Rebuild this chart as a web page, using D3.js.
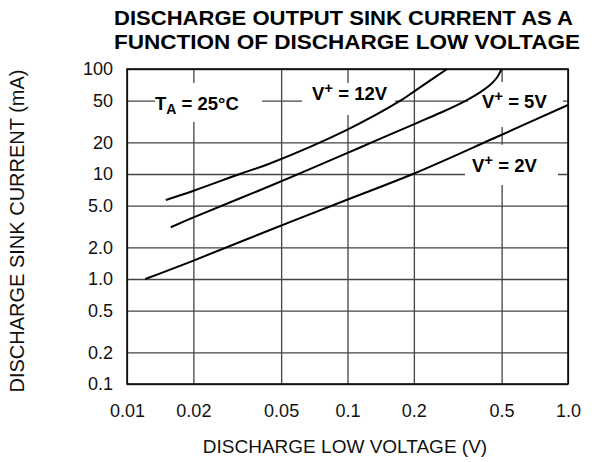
<!DOCTYPE html>
<html>
<head>
<meta charset="utf-8">
<script src="https://cdn.jsdelivr.net/npm/d3@7"></script>
<style>
  body { margin: 0; background: #fff; }
  text { font-family: "Liberation Sans", Arial, sans-serif; }
</style>
</head>
<body>
<div id="chart"></div>
<script>
// tick values and labels
const xTicks = [0.01, 0.02, 0.05, 0.1, 0.2, 0.5, 1.0];
const xTickLabels = ["0.01", "0.02", "0.05", "0.1", "0.2", "0.5", "1.0"];
const yTicks = [0.1, 0.2, 0.5, 1, 2, 5, 10, 20, 50, 100];
const yTickLabels = ["0.1", "0.2", "0.5", "1.0", "2.0", "5.0", "10", "20", "50", "100"];

// curves (V, mA)
const v12 = [0.0150, 0.0199, 0.0325, 0.0445, 0.0989, 0.173, 0.2046, 0.283];
const i12 = [5.66, 6.89, 10, 12.6, 26.2, 49.6, 63, 100];
const v5 = [0.0158, 0.0199, 0.0445, 0.0989, 0.1288, 0.2046, 0.2655, 0.3446, 0.399, 0.4429, 0.4764, 0.500];
const i5 = [3.11, 3.84, 7.69, 15.7, 20, 30.4, 38.5, 50.1, 60.0, 70.4, 83.0, 100];
const v2 = [0.0121, 0.0199, 0.0445, 0.0989, 0.198, 0.461, 1.0];
const i2 = [1.0, 1.49, 2.93, 5.66, 10, 21.9, 45.4];

const W = 592, H = 462;
const margin = {top: 69, right: 24, bottom: 78, left: 127};
const w = W - margin.left - margin.right;
const h = H - margin.top - margin.bottom;

const svg = d3.select("#chart").append("svg")
    .attr("width", W)
    .attr("height", H);

svg.append("text").attr("x", 114).attr("y", 25)
    .attr("font-size", 21).attr("font-weight", "bold")
    .attr("textLength", 459).attr("lengthAdjust", "spacingAndGlyphs")
    .text("DISCHARGE OUTPUT SINK CURRENT AS A");
svg.append("text").attr("x", 114).attr("y", 49)
    .attr("font-size", 21).attr("font-weight", "bold")
    .attr("textLength", 466).attr("lengthAdjust", "spacingAndGlyphs")
    .text("FUNCTION OF DISCHARGE LOW VOLTAGE");

const x = d3.scaleLog().domain([0.01, 1.0]).range([0, w]);
const y = d3.scaleLog().domain([0.1, 100]).range([h, 0]);

const g = svg.append("g")
    .attr("transform", `translate(${margin.left},${margin.top})`);

// grid + tick labels
const xAxis = g.append("g")
    .attr("transform", `translate(0,${h})`)
    .call(d3.axisBottom(x).tickValues(xTicks)
        .tickFormat((d, i) => xTickLabels[i])
        .tickSize(-h).tickPadding(20));
const yAxis = g.append("g")
    .call(d3.axisLeft(y).tickValues(yTicks)
        .tickFormat((d, i) => yTickLabels[i])
        .tickSize(-w).tickPadding(14));

[xAxis, yAxis].forEach(a => {
    a.select(".domain").remove();
    a.selectAll(".tick line").attr("stroke", "#444").attr("stroke-width", 1.3);
    a.selectAll(".tick text").attr("font-size", 18).attr("fill", "#111")
        .attr("font-family", "Liberation Sans, Arial, sans-serif");
});

// label boxes (white, they break the grid) and texts
const labels = [
    {x0: 0.0134, x1: 0.0410, y0: 73.6, y1: 31.3, tx: 0.0134, ty: 40.7, main: "T", sub: "A", rest: " = 25°C"},
    {x0: 0.0622, x1: 0.164, y0: 73.6, y1: 36.5, tx: 0.0690, ty: 50.7, main: "V", sup: "+", rest: " = 12V"},
    {x0: 0.352, x1: 0.949, y0: 75.2, y1: 28.0, tx: 0.407, ty: 42.5, main: "V", sup: "+", rest: " = 5V"},
    {x0: 0.341, x1: 0.901, y0: 19.0, y1: 7.86, tx: 0.367, ty: 10.45, main: "V", sup: "+", rest: " = 2V"}
];

g.selectAll(".lblbox").data(labels).enter().append("rect")
    .attr("x", d => x(d.x0))
    .attr("y", d => y(d.y0))
    .attr("width", d => x(d.x1) - x(d.x0))
    .attr("height", d => y(d.y1) - y(d.y0))
    .attr("fill", "#fff");

labels.forEach(d => {
    const t = g.append("text")
        .attr("x", x(d.tx)).attr("y", y(d.ty))
        .attr("font-size", 18.5).attr("font-weight", "bold");
    t.append("tspan").text(d.main);
    if (d.sub) {
        t.append("tspan").attr("font-size", 14).attr("dy", 4).text(d.sub);
        t.append("tspan").attr("dy", -4).text(d.rest);
    } else {
        t.append("tspan").attr("font-size", 15).attr("dy", -7).text(d.sup);
        t.append("tspan").attr("dy", 7).text(d.rest);
    }
});

// border
g.append("rect").attr("width", w).attr("height", h)
    .attr("fill", "none").attr("stroke", "#000").attr("stroke-width", 1.5);

// curves
const line = d3.line()
    .x(d => x(d[0]))
    .y(d => y(d[1]))
    .curve(d3.curveCatmullRom.alpha(0.5));

[[v12, i12], [v5, i5], [v2, i2]].forEach(([vs, is]) => {
    g.append("path")
        .datum(vs.map((v, k) => [v, is[k]]))
        .attr("d", line)
        .attr("fill", "none")
        .attr("stroke", "#000")
        .attr("stroke-width", 2);
});

// axis titles
svg.append("text")
    .attr("x", 345).attr("y", 453)
    .attr("text-anchor", "middle")
    .attr("font-size", 19).attr("fill", "#111")
    .text("DISCHARGE LOW VOLTAGE (V)");
svg.append("text")
    .attr("transform", "translate(24,231) rotate(-90)")
    .attr("text-anchor", "middle")
    .attr("font-size", 20).attr("fill", "#111")
    .text("DISCHARGE SINK CURRENT (mA)");
</script>
</body>
</html>
